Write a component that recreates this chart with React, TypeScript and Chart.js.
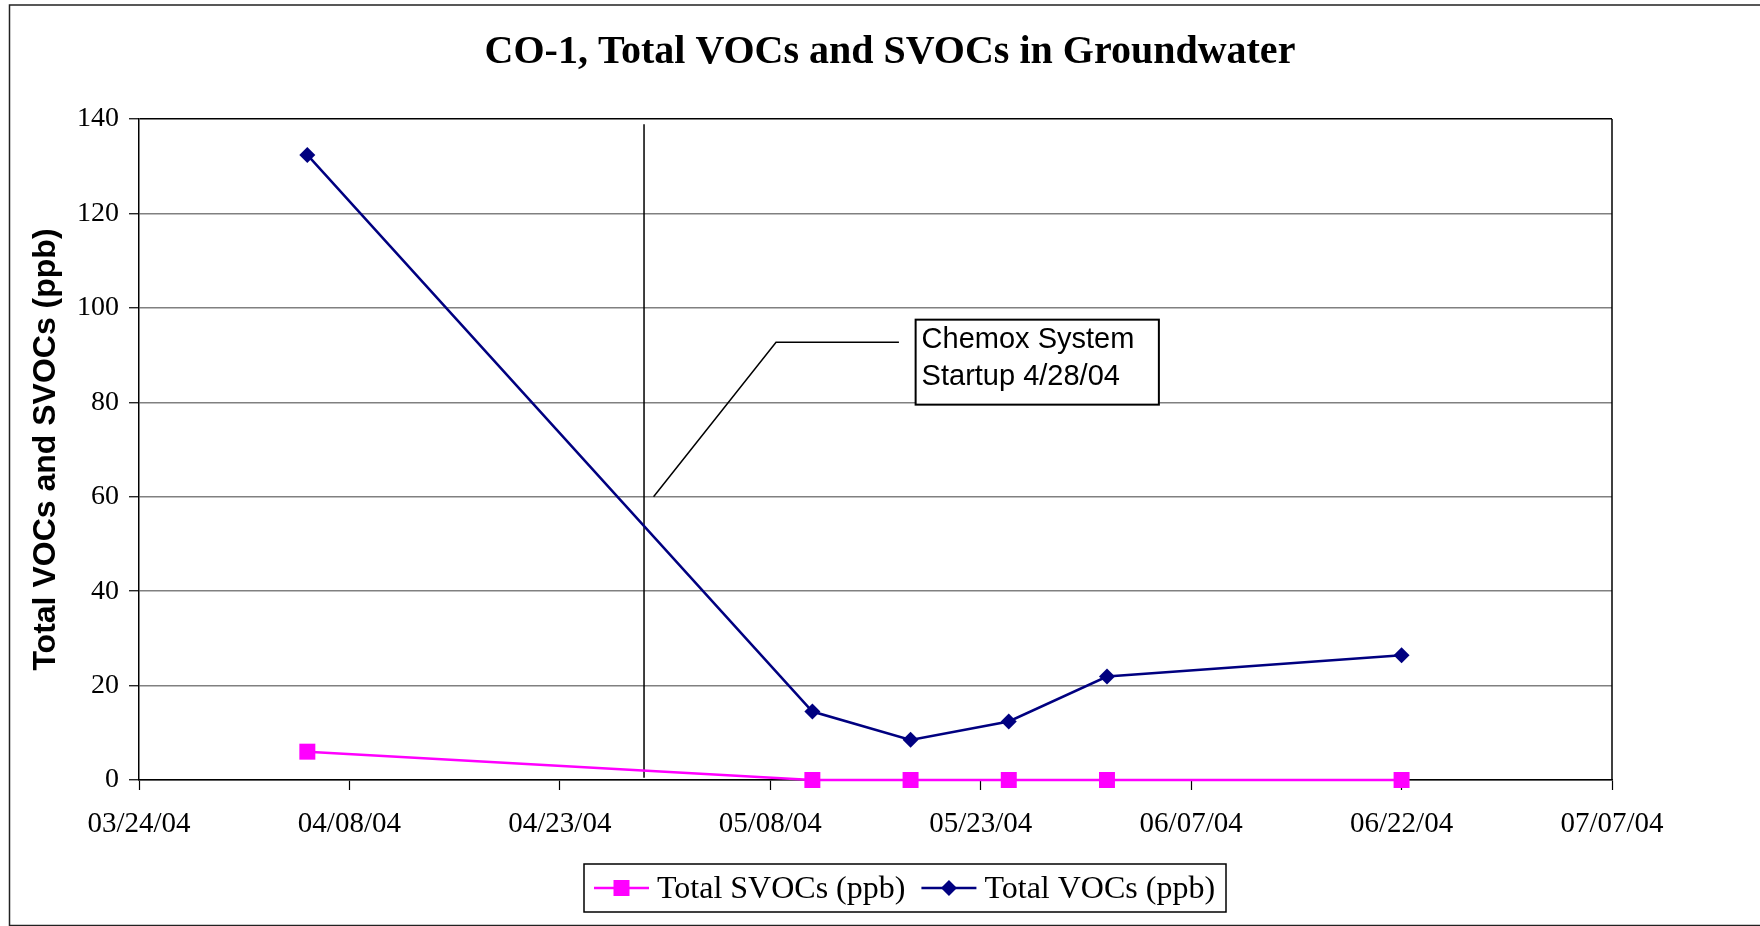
import React, { useEffect, useRef } from 'react';
import { Chart, registerables } from 'chart.js';

Chart.register(...registerables);

// ---------- data ----------
const sampleDates = ['2004-04-05', '2004-05-11', '2004-05-18', '2004-05-25', '2004-06-01', '2004-06-22'];
const totalSVOCs = [6.0, 0, 0, 0, 0, 0];
const totalVOCs = [132.4, 14.5, 8.5, 12.4, 21.9, 26.4];
const seriesLabels = ['Total SVOCs (ppb)', 'Total VOCs (ppb)'];
const xAxisStart = '2004-03-24';
const xAxisEnd = '2004-07-07';
const xTickStepDays = 15;
const yMin = 0;
const yMax = 140;
const yStep = 20;
const startupDate = '2004-04-29';
const calloutLines = ['Chemox System', 'Startup 4/28/04'];
const chartTitle = 'CO-1, Total VOCs and SVOCs in Groundwater';
const yAxisTitle = 'Total VOCs and SVOCs (ppb)';

// ---------- helpers ----------
const DAY = 86400000;
const toDay = (s: string) => {
  const [y, m, d] = s.split('-').map(Number);
  return Math.round(Date.UTC(y, m - 1, d) / DAY);
};
const pad2 = (n: number) => (n < 10 ? '0' + n : '' + n);
const fmtDay = (n: number) => {
  const dt = new Date(Math.round(n) * DAY);
  return `${pad2(dt.getUTCMonth() + 1)}/${pad2(dt.getUTCDate())}/${pad2(dt.getUTCFullYear() % 100)}`;
};

const SERIF = '"Liberation Serif", "Times New Roman", serif';
const SANS = '"Liberation Sans", Arial, sans-serif';
const NAVY = '#000080';
const MAGENTA = '#FF00FF';

// callout geometry in data units (days after startup, y value)
const callout = {
  leaderStart: { dx: 0.68, y: 60 },
  elbow: { dx: 9.41, y: 92.7 },
  leaderEnd: { dx: 18.17, y: 92.7 },
  box: { dx0: 19.36, dx1: 36.7, yTop: 97.5, yBottom: 79.5 },
};

function drawMarker(ctx: CanvasRenderingContext2D, style: string, x: number, y: number, color: string) {
  ctx.save();
  ctx.fillStyle = color;
  ctx.beginPath();
  if (style === 'rect') {
    ctx.rect(x - 8, y - 8, 16, 16);
  } else {
    ctx.moveTo(x, y - 8);
    ctx.lineTo(x + 8, y);
    ctx.lineTo(x, y + 8);
    ctx.lineTo(x - 8, y);
    ctx.closePath();
  }
  ctx.fill();
  ctx.restore();
}

const decorPlugin = {
  id: 'decor',
  beforeDatasetsDraw(chart: any) {
    const { ctx, scales } = chart;
    const x = scales.x;
    const y = scales.y;
    const sx = x.getPixelForValue(toDay(startupDate));
    ctx.save();
    ctx.strokeStyle = '#000';
    ctx.lineWidth = 1.5;
    ctx.beginPath();
    ctx.moveTo(sx, y.getPixelForValue(138.9));
    ctx.lineTo(sx, y.getPixelForValue(0.5));
    ctx.stroke();
    ctx.restore();
  },
  afterDraw(chart: any) {
    const { ctx, scales, chartArea } = chart;
    const x = scales.x;
    const y = scales.y;
    ctx.save();

    // outer frame
    ctx.strokeStyle = '#222';
    ctx.lineWidth = 1.5;
    ctx.strokeRect(9.5, 5, 1770, 920.5);

    // plot area right border
    ctx.strokeStyle = '#000';
    ctx.lineWidth = 1.5;
    ctx.beginPath();
    ctx.moveTo(chartArea.right, chartArea.top);
    ctx.lineTo(chartArea.right, chartArea.bottom);
    ctx.stroke();

    // title
    ctx.fillStyle = '#000';
    ctx.font = `bold 40px ${SERIF}`;
    ctx.textAlign = 'center';
    ctx.textBaseline = 'alphabetic';
    ctx.fillText(chartTitle, 890, 63);

    // callout leader
    const s0 = toDay(startupDate);
    const px = (dx: number) => x.getPixelForValue(s0 + dx);
    const py = (v: number) => y.getPixelForValue(v);
    ctx.strokeStyle = '#000';
    ctx.lineWidth = 1.5;
    ctx.beginPath();
    ctx.moveTo(px(callout.leaderStart.dx), py(callout.leaderStart.y));
    ctx.lineTo(px(callout.elbow.dx), py(callout.elbow.y));
    ctx.lineTo(px(callout.leaderEnd.dx), py(callout.leaderEnd.y));
    ctx.stroke();

    // callout box
    const bx0 = px(callout.box.dx0);
    const bx1 = px(callout.box.dx1);
    const by0 = py(callout.box.yTop);
    const by1 = py(callout.box.yBottom);
    ctx.fillStyle = '#fff';
    ctx.fillRect(bx0, by0, bx1 - bx0, by1 - by0);
    ctx.lineWidth = 2;
    ctx.strokeRect(bx0, by0, bx1 - bx0, by1 - by0);
    ctx.fillStyle = '#000';
    ctx.font = `29px ${SANS}`;
    ctx.textAlign = 'left';
    ctx.textBaseline = 'alphabetic';
    ctx.fillText(calloutLines[0], bx0 + 6, by0 + 28);
    ctx.fillText(calloutLines[1], bx0 + 6, by0 + 65);

    // legend
    const lx0 = 584, ly0 = 864, lx1 = 1226, ly1 = 912;
    const midY = 888;
    ctx.fillStyle = '#fff';
    ctx.fillRect(lx0, ly0, lx1 - lx0, ly1 - ly0);
    ctx.strokeStyle = '#000';
    ctx.lineWidth = 1.5;
    ctx.strokeRect(lx0, ly0, lx1 - lx0, ly1 - ly0);
    ctx.font = `32px ${SERIF}`;
    let cx = lx0 + 10;
    chart.data.datasets.forEach((ds: any) => {
      ctx.strokeStyle = ds.borderColor;
      ctx.lineWidth = 2.5;
      ctx.beginPath();
      ctx.moveTo(cx, midY);
      ctx.lineTo(cx + 55, midY);
      ctx.stroke();
      drawMarker(ctx, ds.pointStyle, cx + 27.5, midY, ds.borderColor);
      ctx.fillStyle = '#000';
      ctx.textAlign = 'left';
      ctx.fillText(ds.label, cx + 63, 898);
      cx += 63 + ctx.measureText(ds.label).width + 16;
    });

    ctx.restore();
  },
};

export default function App() {
  const canvasRef = useRef<HTMLCanvasElement | null>(null);

  useEffect(() => {
    if (!canvasRef.current) return;
    const xs = sampleDates.map(toDay);
    const chart = new Chart(canvasRef.current, {
      type: 'line',
      data: {
        datasets: [
          {
            label: seriesLabels[0],
            data: xs.map((xv, i) => ({ x: xv, y: totalSVOCs[i] })),
            borderColor: MAGENTA,
            backgroundColor: MAGENTA,
            borderWidth: 2.5,
            pointStyle: 'rect',
            pointRadius: 11.3,
            pointHoverRadius: 11.3,
            pointBorderWidth: 0,
            tension: 0,
            clip: false,
          },
          {
            label: seriesLabels[1],
            data: xs.map((xv, i) => ({ x: xv, y: totalVOCs[i] })),
            borderColor: NAVY,
            backgroundColor: NAVY,
            borderWidth: 2.5,
            pointStyle: 'rectRot',
            pointRadius: 8,
            pointHoverRadius: 8,
            pointBorderWidth: 0,
            tension: 0,
            clip: false,
          },
        ],
      },
      options: {
        animation: false,
        responsive: false,
        devicePixelRatio: 1,
        layout: { padding: { left: 0, top: 119, right: 148, bottom: 0 } },
        plugins: {
          legend: { display: false },
          title: { display: false },
          tooltip: { enabled: false },
        },
        events: [],
        scales: {
          x: {
            type: 'linear',
            min: toDay(xAxisStart),
            max: toDay(xAxisEnd),
            afterFit: (s: any) => {
              s.height = 146;
            },
            ticks: {
              stepSize: xTickStepDays,
              autoSkip: false,
              maxRotation: 0,
              padding: 17,
              color: '#000',
              font: { family: SERIF, size: 29 },
              callback: (v: any) => fmtDay(Number(v)),
            },
            grid: {
              drawOnChartArea: false,
              drawTicks: true,
              tickLength: 10,
              tickColor: '#000',
              tickWidth: 1.2,
            },
            border: { display: true, color: '#000', width: 1.5 },
          },
          y: {
            type: 'linear',
            min: yMin,
            max: yMax,
            afterFit: (s: any) => {
              s.width = 139;
            },
            ticks: {
              stepSize: yStep,
              padding: 10,
              color: '#000',
              font: { family: SERIF, size: 28 },
            },
            grid: {
              color: (c: any) => (c.tick && c.tick.value === yMax ? '#000' : '#808080'),
              lineWidth: 1.5,
              tickLength: 10,
              tickColor: '#000',
              tickWidth: 1.2,
            },
            border: { display: true, color: '#000', width: 1.5 },
            title: {
              display: true,
              text: yAxisTitle,
              color: '#000',
              font: { family: SANS, size: 32, weight: 'bold', lineHeight: 1.2 },
              padding: { top: 27, bottom: 0 },
            },
          },
        },
      },
      plugins: [decorPlugin],
    });
    return () => chart.destroy();
  }, []);

  return (
    <div style={{ position: 'absolute', left: 0, top: 0, width: 1760, height: 926, background: '#fff' }}>
      <canvas ref={canvasRef} width={1760} height={926} style={{ display: 'block' }} />
    </div>
  );
}
